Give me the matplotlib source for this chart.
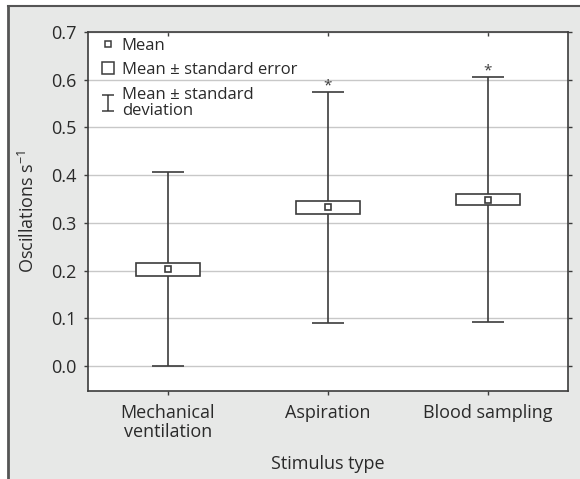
import numpy as np
import matplotlib
matplotlib.use("Agg")
import matplotlib.pyplot as plt
from matplotlib.lines import Line2D
from matplotlib.path import Path

plt.rcParams['font.family'] = ['Open Sans', 'DejaVu Sans']
plt.rcParams['mathtext.fontset'] = 'custom'
plt.rcParams['mathtext.rm'] = 'Open Sans'
plt.rcParams['mathtext.it'] = 'Open Sans'

categories = ["Mechanical\nventilation", "Aspiration", "Blood sampling"]
means = [0.203, 0.333, 0.349]
se_lo = [0.189, 0.319, 0.337]
se_hi = [0.217, 0.345, 0.360]
sd_lo = [0.000, 0.090, 0.092]
sd_hi = [0.407, 0.575, 0.606]
significant = [False, True, True]

DARK = '#3c3c3c'
TXT = '#2a2a2a'
GRID = '#c8c8c8'
BG = '#e7e8e7'

fig = plt.figure(figsize=(5.8, 4.79), dpi=100, facecolor='white')
# grey panel with top/left border
fx0, fy1 = 7.5 / 580, 1 - 5.5 / 479
fig.patches.append(plt.Rectangle((fx0, 0), 1 - fx0, fy1, transform=fig.transFigure,
                                 facecolor=BG, edgecolor='none', zorder=-10))
fig.add_artist(Line2D([fx0, 1], [fy1, fy1], transform=fig.transFigure, color='#555555', lw=1.5))
fig.add_artist(Line2D([fx0, fx0], [0, fy1], transform=fig.transFigure, color='#555555', lw=2))

ax = fig.add_axes([88 / 580, 1 - 391 / 479, 480 / 580, 359 / 479])
ax.set_facecolor('white')

x = np.arange(1, len(categories) + 1)
ax.set_xlim(0.5, 3.5)
ax.set_ylim(-0.052, 0.7)

# whiskers (mean +- sd)
ax.vlines(x, sd_lo, sd_hi, color=DARK, lw=1.2, zorder=2)
ax.hlines(sd_lo, x - 0.1, x + 0.1, color=DARK, lw=1.2, zorder=2)
ax.hlines(sd_hi, x - 0.1, x + 0.1, color=DARK, lw=1.2, zorder=2)
# boxes (mean +- se)
ax.bar(x, np.array(se_hi) - np.array(se_lo), bottom=se_lo, width=0.4,
       facecolor='white', edgecolor=DARK, lw=1.2, zorder=3)
# mean markers
ax.plot(x, means, 's', ms=4.5, mfc='white', mec=DARK, mew=1.2, zorder=4)

for xi, top, sig in zip(x, sd_hi, significant):
    if sig:
        ax.annotate('*', (xi, top), xytext=(0, -1), textcoords='offset points',
                    ha='center', va='bottom', fontsize=11, color=DARK)

yt = np.arange(0, 0.71, 0.1)
ax.set_yticks(yt)
ax.set_yticklabels(['%.1f' % v for v in yt])
ax.set_xticks(x)
ax.set_xticklabels(categories, linespacing=1.1)
ax.yaxis.grid(True, color=GRID, lw=1)
ax.set_axisbelow(True)
for s in ax.spines.values():
    s.set_color(DARK)
    s.set_linewidth(1.2)
ax.tick_params(axis='both', labelsize=13, colors=DARK, length=3, width=1, labelcolor=TXT)
ax.tick_params(axis='x', pad=6)
ax.tick_params(axis='y', pad=5)
ax.tick_params(which='both', top=True, right=True)
for t in ax.xaxis.get_major_ticks():
    t.tick2line.set_marker(3)  # inward on top
for t in ax.yaxis.get_major_ticks():
    t.tick2line.set_marker(1)  # inward on right
ax.set_ylabel('Oscillations s$^{\\mathregular{-1}}$', fontsize=13, color=TXT, labelpad=10)
ax.set_xlabel('Stimulus type', fontsize=13, color=TXT, labelpad=10)

ibeam = Path([(-0.4, -0.5), (0.4, -0.5), (0, -0.5), (0, 0.5), (-0.4, 0.5), (0.4, 0.5)],
             [Path.MOVETO, Path.LINETO, Path.MOVETO, Path.LINETO, Path.MOVETO, Path.LINETO])
handles = [
    Line2D([], [], ls='none', marker='s', ms=4.5, mfc='white', mec=DARK, mew=1.1),
    Line2D([], [], ls='none', marker='s', ms=9, mfc='white', mec=DARK, mew=1.1),
    Line2D([], [], ls='none', marker=ibeam, ms=11, mfc='none', mec=DARK, mew=1.1),
]
labels = ['Mean', 'Mean \u00b1 standard error', 'Mean \u00b1 standard\ndeviation']
leg = ax.legend(handles, labels, loc='upper left', frameon=False, fontsize=12,
                bbox_to_anchor=(7 / 480, 1 - 1 / 359), borderaxespad=0,
                handlelength=0.9, handletextpad=0.4,
                labelspacing=0.5, borderpad=0.3)
for t in leg.get_texts():
    t.set_color(TXT)
    t.set_linespacing(1.05)

fig.savefig('out.png', dpi=100, facecolor=fig.get_facecolor())
